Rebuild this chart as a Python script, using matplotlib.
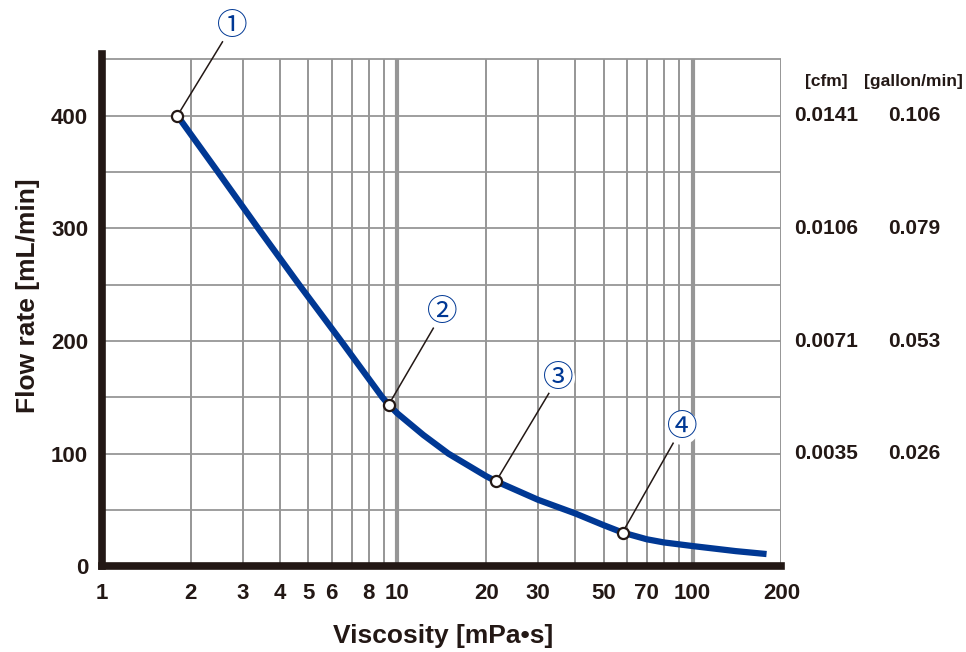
import matplotlib
matplotlib.use("Agg")
import matplotlib.pyplot as plt
from matplotlib.ticker import FixedLocator, NullLocator

# Data for the chart
viscosity = [1.8, 2.47, 3.38, 4.65, 6.45, 8.9, 9.35, 10, 12.25, 14.9, 20, 21.6,
             30, 40, 50, 57.9, 70, 80, 100, 140, 178]
flow_rate = [400, 350, 300, 250, 200, 150, 143.5, 135.8, 116.6, 100, 80, 75.5,
             59, 47, 36.5, 30, 24, 21.2, 18, 13.5, 10.9]

# numbered points on the curve
point_labels = ['①', '②', '③', '④']
point_visc = [1.8, 9.35, 21.6, 57.9]
point_flow = [400, 143.5, 75.5, 30]
label_visc = [2.75, 14.2, 35.0, 92.0]
label_flow = [479, 225, 167, 123]

x_ticks = [1, 2, 3, 4, 5, 6, 8, 10, 20, 30, 50, 70, 100, 200]
x_labels = ['1', '2', '3', '4', '5', '6', '8', '10', '20', '30', '50', '70', '100', '200']
y_ticks = [0, 100, 200, 300, 400]

# right side conversion columns
cfm_values = ['0.0141', '0.0106', '0.0071', '0.0035']
gpm_values = ['0.106', '0.079', '0.053', '0.026']
conv_rows = [400, 300, 200, 100]

plt.rcParams['font.family'] = ['Liberation Sans', 'DejaVu Sans']
plt.rcParams['font.weight'] = 'bold'

black = '#231815'
grid_gray = '#969696'
blue = '#003894'

fig = plt.figure(figsize=(9.66, 6.52), dpi=100)
ax = fig.add_axes([0.1056, 0.1314, 0.7034, 0.7862])
ax.set_xscale('log')
ax.set_xlim(1, 200)
ax.set_ylim(0, 455)

# grid lines
thin_x = [2, 3, 4, 5, 6, 7, 8, 9, 20, 30, 40, 50, 60, 70, 80, 90, 200]
ax.vlines(thin_x, 0, 450, color=grid_gray, lw=1.4, zorder=1)
ax.vlines([10, 100], 0, 450, color=grid_gray, lw=3.0, zorder=1)
ax.hlines(range(50, 451, 50), 1, 200, color=grid_gray, lw=1.3, zorder=1)

# curve and points
ax.plot(viscosity, flow_rate, color=blue, lw=4.5, solid_capstyle='butt', zorder=3)
ax.plot(point_visc, point_flow, 'o', ms=8, mfc='white', mec=black, mew=1.6, zorder=5)

for lab, px, py, tx, ty in zip(point_labels, point_visc, point_flow, label_visc, label_flow):
    ax.annotate(lab, xy=(px, py), xytext=(tx, ty), ha='center', va='center',
                fontsize=22, color=blue, family=['Noto Sans CJK JP', 'DejaVu Sans'],
                fontweight='normal', annotation_clip=False,
                bbox=dict(boxstyle='circle,pad=0.05', fc='white', ec='none'),
                arrowprops=dict(arrowstyle='-', color=black, lw=1.1, shrinkA=0, shrinkB=4),
                zorder=6)

# spines
for side in ['top', 'right']:
    ax.spines[side].set_visible(False)
for side in ['left', 'bottom']:
    ax.spines[side].set_linewidth(5.5)
    ax.spines[side].set_color(black)
    ax.spines[side].set_capstyle('projecting')

ax.xaxis.set_major_locator(FixedLocator(x_ticks))
ax.xaxis.set_minor_locator(NullLocator())
ax.set_xticklabels(x_labels)
ax.set_yticks(y_ticks)
ax.tick_params(axis='x', length=0, pad=12, labelsize=16, labelcolor=black)
ax.tick_params(axis='y', length=0, pad=10, labelsize=16, labelcolor=black)

ax.set_xlabel('Viscosity [mPa•s]', fontsize=19, fontweight='bold', color=black)
ax.set_ylabel('Flow rate [mL/min]', fontsize=19, fontweight='bold', color=black)
ax.xaxis.set_label_coords(0.502, -0.113)
ax.yaxis.set_label_coords(-0.091, 0.527)

# conversion columns on the right
tr = ax.get_yaxis_transform()
ax.text(1.066, 430, '[cfm]', transform=tr, ha='center', va='center', fontsize=12.5, color=black)
ax.text(1.194, 430, '[gallon/min]', transform=tr, ha='center', va='center', fontsize=12.5, color=black)
for yv, c, g in zip(conv_rows, cfm_values, gpm_values):
    ax.text(1.066, yv, c, transform=tr, ha='center', va='center', fontsize=15, color=black)
    ax.text(1.196, yv, g, transform=tr, ha='center', va='center', fontsize=15, color=black)

fig.savefig('out.png', dpi=100)
